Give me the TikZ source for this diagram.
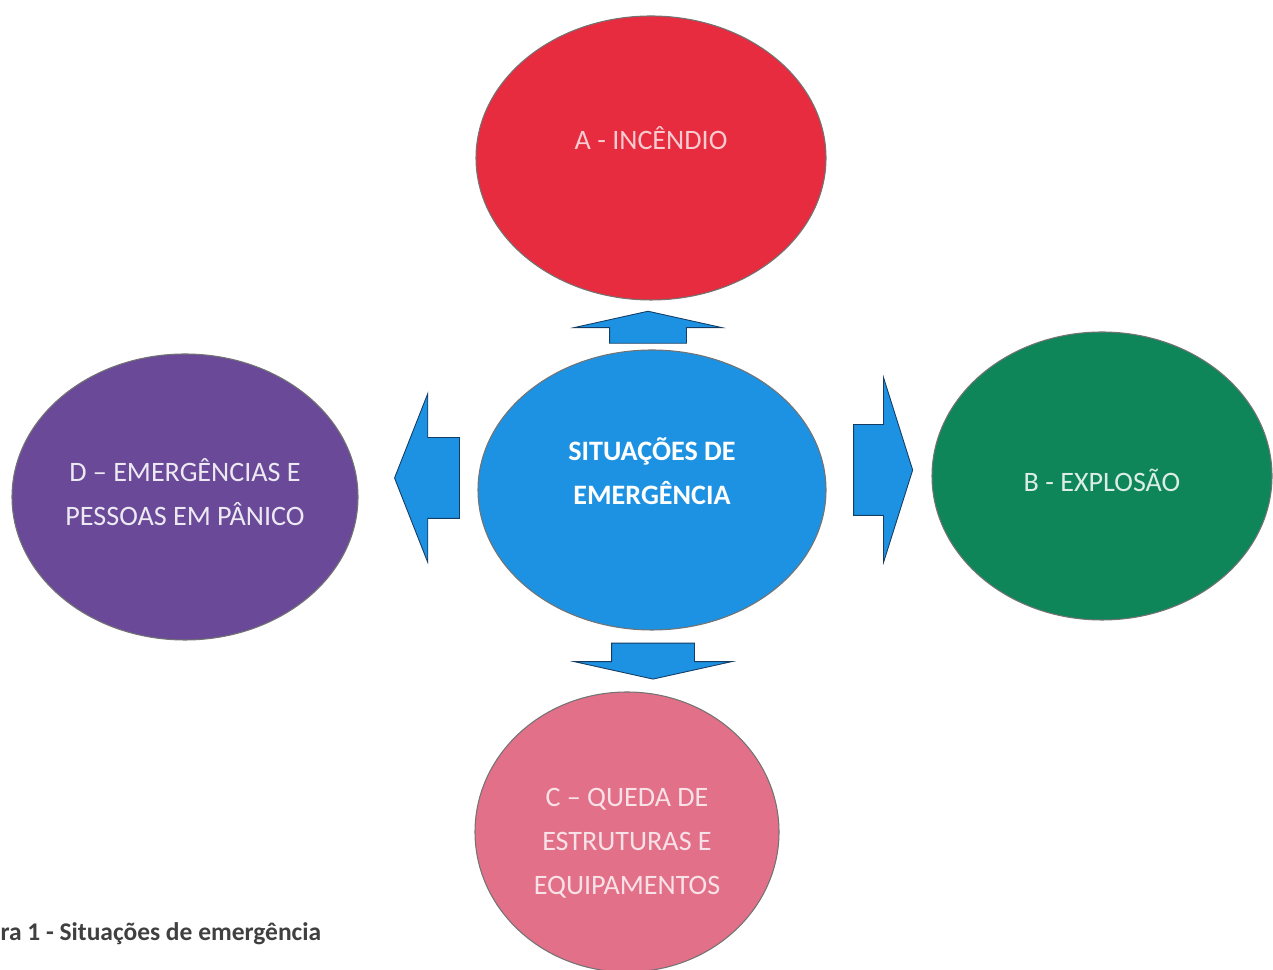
\documentclass[tikz,border=0pt]{standalone}
\usepackage{fontspec}
\setmainfont{Carlito}
\usepackage{tikz}
\usetikzlibrary{shapes.geometric,shapes.arrows}

\definecolor{incred}{RGB}{230,44,62}
\definecolor{sitblue}{RGB}{30,146,226}
\definecolor{emppurple}{RGB}{106,74,152}
\definecolor{expgreen}{RGB}{14,134,90}
\definecolor{quepink}{RGB}{226,112,136}
\definecolor{arrowline}{RGB}{20,60,100}

\begin{document}
\begin{tikzpicture}[semithick]

    \tikzstyle{situacao}=[ellipse, draw=black!55, line width=0.6pt, inner sep=0pt]
    \tikzstyle{rotulo}=[align=center, inner sep=0pt, font=\fontsize{16}{25}\selectfont]
    \tikzstyle{seta}=[single arrow, draw=arrowline, fill=sitblue, line width=0.5pt,
                      single arrow head indent=0pt, inner xsep=0pt]

    \useasboundingbox (0,0) rectangle (25.46,19.4);

    % elipses
    \node[situacao, fill=incred,    minimum width=7.00cm, minimum height=5.68cm] (inc) at (13.02,16.24) {};
    \node[situacao, fill=sitblue,   minimum width=6.96cm, minimum height=5.60cm] (sit) at (13.04,9.60)  {};
    \node[situacao, fill=emppurple, minimum width=6.92cm, minimum height=5.72cm] (emp) at (3.70,9.46)   {};
    \node[situacao, fill=expgreen,  minimum width=6.80cm, minimum height=5.76cm] (exp) at (22.04,9.88)  {};
    \node[situacao, fill=quepink,   minimum width=6.08cm, minimum height=5.60cm] (que) at (12.54,2.76)  {};

    % textos
    \node[rotulo, text=incred!25!white]    (incTxt) at ([yshift=4mm]inc.center)   {A - INCÊNDIO};
    \node[rotulo, text=white, font=\fontsize{16}{25}\selectfont\bfseries]
                                           (sitTxt) at ([yshift=3.8mm]sit.center) {SITUAÇÕES DE\\EMERGÊNCIA};
    \node[rotulo, text=emppurple!12!white] (empTxt) at ([yshift=1mm]emp.center)   {D – EMERGÊNCIAS E\\PESSOAS EM PÂNICO};
    \node[rotulo, text=expgreen!15!white]  (expTxt) at ([yshift=-0.8mm]exp.center) {B - EXPLOSÃO};
    \node[rotulo, text=quepink!20!white]   (queTxt) at ([yshift=-2.2mm]que.center) {C – QUEDA DE\\ESTRUTURAS E\\EQUIPAMENTOS};

    % setas
    \node[seta, rotate=90,  minimum height=0.64cm, minimum width=2.94cm, inner ysep=0.76cm,
          single arrow head extend=0.71cm, single arrow tip angle=155] (paraInc) at (12.96,12.77) {};
    \node[seta, rotate=-90, minimum height=0.72cm, minimum width=3.14cm, inner ysep=0.82cm,
          single arrow head extend=0.75cm, single arrow tip angle=155] (paraQue) at (13.06,6.27) {};
    \node[seta, rotate=180, minimum height=1.30cm, minimum width=3.36cm, inner ysep=0.80cm,
          single arrow head extend=0.88cm, single arrow tip angle=137] (paraEmp) at (8.70,9.84) {};
    \node[seta,             minimum height=1.18cm, minimum width=3.68cm, inner ysep=0.90cm,
          single arrow head extend=0.94cm, single arrow tip angle=145] (paraExp) at (17.52,10.00) {};

    % legenda
    \node[anchor=west, inner sep=0pt, text=black!75, font=\fontsize{14.5}{17}\selectfont\bfseries]
          (legenda) at (0,0.72) {ra 1 - Situações de emergência};

\end{tikzpicture}
\end{document}
